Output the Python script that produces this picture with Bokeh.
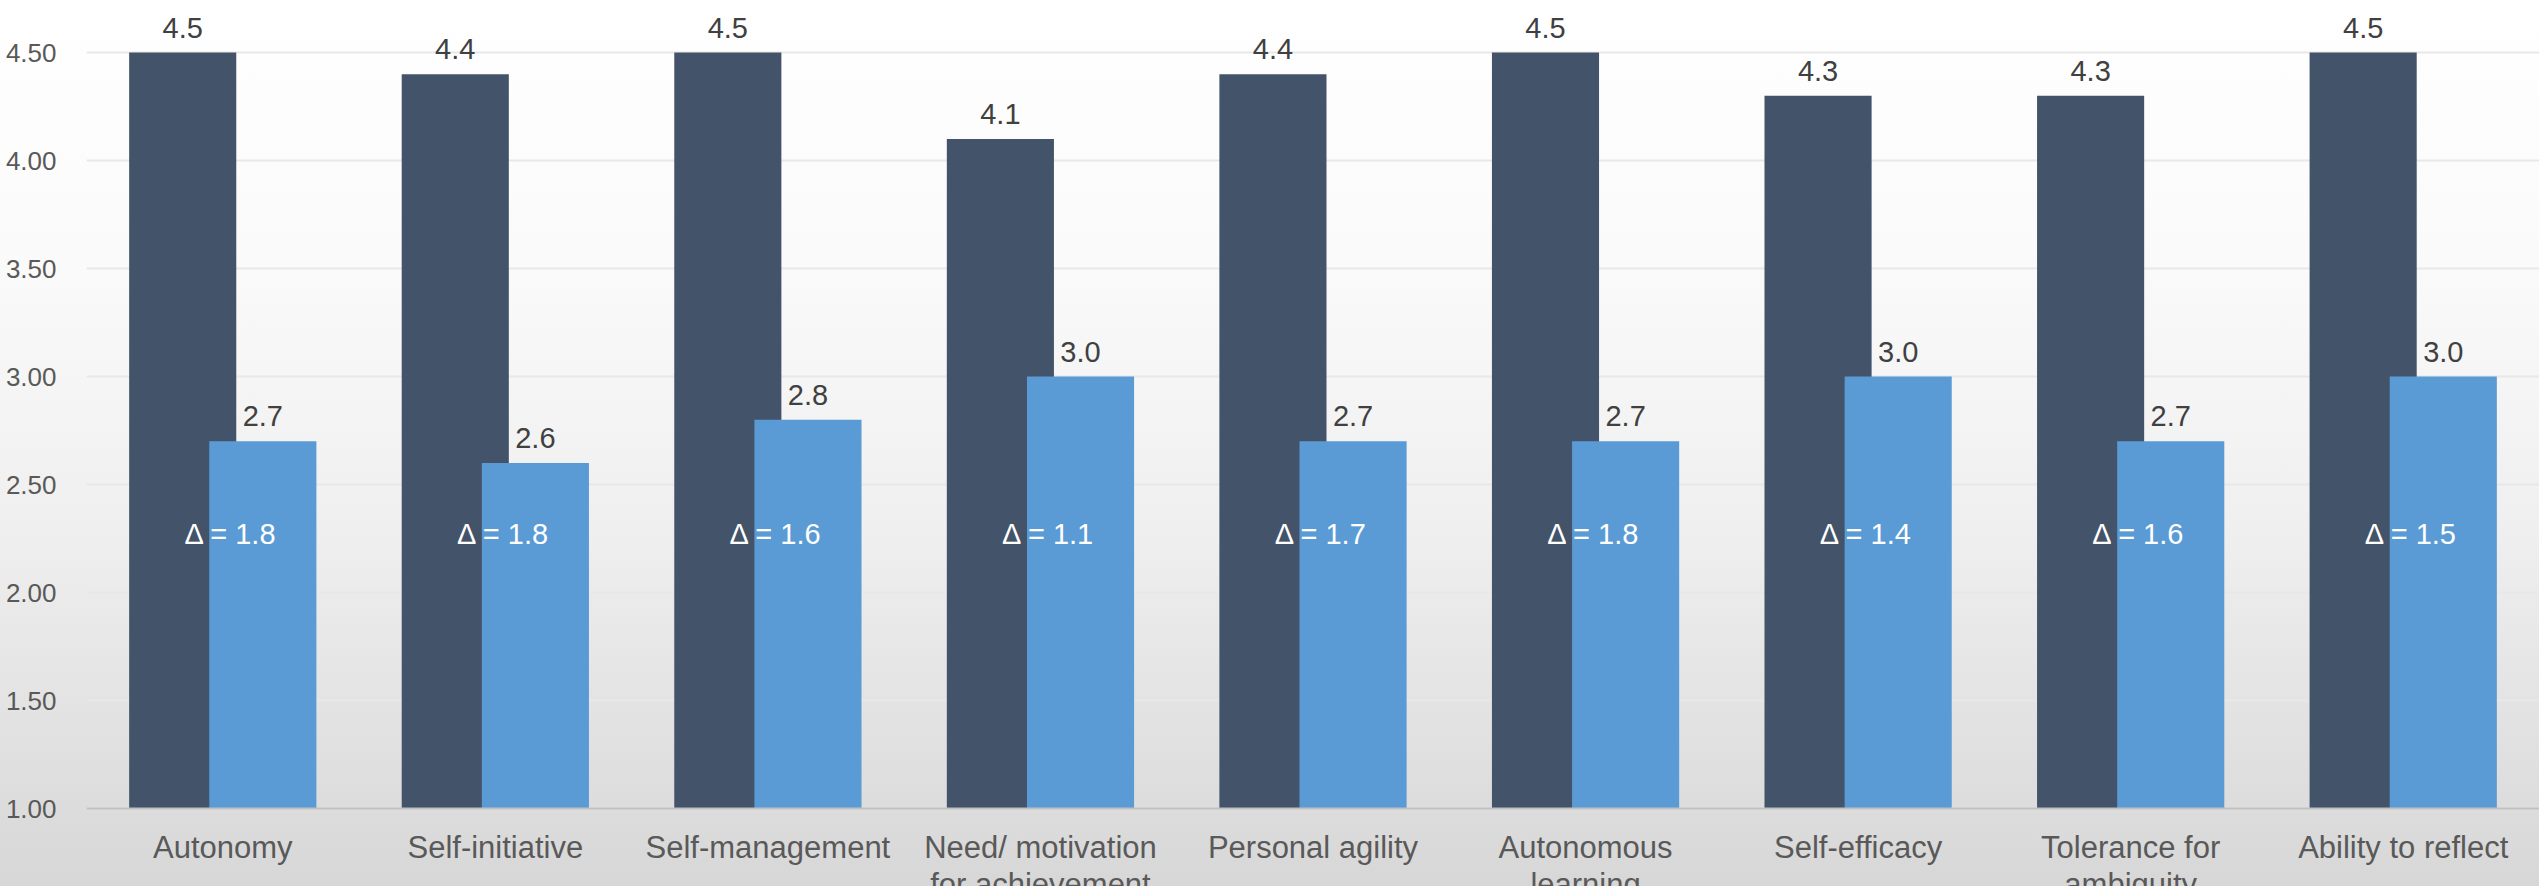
from bokeh.plotting import figure
from bokeh.models import (ColumnDataSource, FactorRange, Range1d, FixedTicker,
                          NumeralTickFormatter, Span)
from bokeh.transform import dodge
from bokeh.core.properties import value
from bokeh.embed import file_html
from bokeh.resources import INLINE

categories = ["Autonomy", "Self-initiative", "Self-management", "Need/ motivation",
              "Personal agility", "Autonomous", "Self-efficacy", "Tolerance for",
              "Ability to reflect"]
second_lines = ["", "", "", "for achievement", "", "learning", "", "ambiguity", ""]
importance = [4.5, 4.4, 4.5, 4.1, 4.4, 4.5, 4.3, 4.3, 4.5]
current = [2.7, 2.6, 2.8, 3.0, 2.7, 2.7, 3.0, 2.7, 3.0]
delta = [1.8, 1.8, 1.6, 1.1, 1.7, 1.8, 1.4, 1.6, 1.5]
y_ticks = [1.0, 1.5, 2.0, 2.5, 3.0, 3.5, 4.0, 4.5]

DARK = "#435369"
LIGHT = "#5a9bd5"
FONT = "Liberation Sans"
BASE = 1.0

src = ColumnDataSource(dict(
    cat=categories,
    line2=second_lines,
    base=[BASE] * len(categories),
    imp=importance,
    cur=current,
    imp_lbl=[f"{v:.1f}" for v in importance],
    cur_lbl=[f"{v:.1f}" for v in current],
    d_lbl=[f"\u0394 = {v:.1f}" for v in delta],
    d_y=[2.27] * len(categories),
))

# frame covers the whole canvas height; the category axis labels are drawn
# below the 1.00 baseline, as in the (cropped) original
p = figure(x_range=FactorRange(*categories, range_padding=0),
           y_range=Range1d(BASE - 78 / 216, 4.741),
           width=2539, height=886, output_backend="svg", toolbar_location=None,
           min_border_left=86, min_border_right=0, min_border_top=0,
           min_border_bottom=0)

p.styles = {"background": "linear-gradient(to bottom, #ffffff 0%, #fafafa 30%, "
                          "#efefef 60%, #e0e0e0 85%, #d7d7d7 100%)"}
p.background_fill_alpha = 0
p.border_fill_alpha = 0
p.outline_line_color = None

off = 0.147
w = 0.393
p.vbar(x=dodge("cat", -off, range=p.x_range), top="imp", bottom=BASE, width=w,
       source=src, fill_color=DARK, line_color=None)
p.vbar(x=dodge("cat", off, range=p.x_range), top="cur", bottom=BASE, width=w,
       source=src, fill_color=LIGHT, line_color=None)

p.add_layout(Span(location=BASE, dimension="width", line_color="#c0c0c0",
                  line_width=2))

p.text(x=dodge("cat", -off, range=p.x_range), y="imp", text="imp_lbl", source=src,
       text_align="center", text_baseline="alphabetic", y_offset=-25,
       text_font=value(FONT), text_font_size="29px", text_color="#404040")
p.text(x=dodge("cat", off, range=p.x_range), y="cur", text="cur_lbl", source=src,
       text_align="center", text_baseline="alphabetic", y_offset=-25,
       text_font=value(FONT), text_font_size="29px", text_color="#404040")
p.text(x="cat", y="d_y", text="d_lbl", source=src, x_offset=8,
       text_align="center", text_baseline="alphabetic",
       text_font=value(FONT), text_font_size="29px", text_color="white")

# category labels (two lines, the second one cut by the window edge)
p.text(x="cat", y="base", text="cat", source=src, y_offset=39,
       text_align="center", text_baseline="alphabetic",
       text_font=value(FONT), text_font_size="31px", text_color="#595959")
p.text(x="cat", y="base", text="line2", source=src, y_offset=76,
       text_align="center", text_baseline="alphabetic",
       text_font=value(FONT), text_font_size="31px", text_color="#595959")

# Axes
p.xaxis.visible = False
p.yaxis.ticker = FixedTicker(ticks=y_ticks)
p.yaxis.formatter = NumeralTickFormatter(format="0.00")
p.yaxis.axis_line_color = None
p.yaxis.major_tick_line_color = None
p.yaxis.minor_tick_line_color = None
p.yaxis.major_label_standoff = 24
p.yaxis.major_label_text_font = FONT
p.yaxis.major_label_text_font_size = "26px"
p.yaxis.major_label_text_color = "#595959"

p.xgrid.grid_line_color = None
p.ygrid.grid_line_color = "#e8e8e8"
p.ygrid.grid_line_width = 2

open("out.html", "w").write(file_html(p, INLINE))
